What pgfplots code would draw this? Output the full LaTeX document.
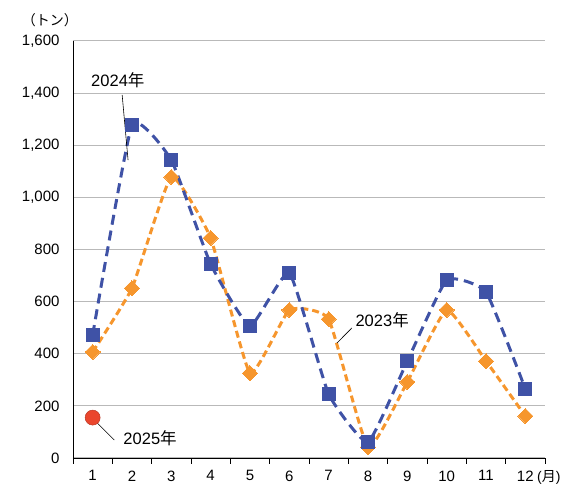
\documentclass[border=0pt]{standalone}
\usepackage{fontspec}
\setmainfont{Liberation Sans}
\newfontfamily\jp{Noto Sans CJK JP}
\usepackage{pgfplots}
\pgfplotsset{compat=1.18}
\definecolor{bl}{RGB}{63,82,166}
\definecolor{og}{RGB}{246,150,45}
\definecolor{rd}{RGB}{234,70,45}
\begin{document}
\begin{tikzpicture}[x=1pt,y=1pt]
\useasboundingbox (-73,-29) rectangle (490,458);
\begin{axis}[at={(0,0)},anchor=south west,scale only axis,
  width=472pt,height=417pt,
  xmin=0.5,xmax=12.5,ymin=0,ymax=1600,
  ytick={0,200,...,1600},
  xtick={1,...,12},
  minor xtick={0.5,1.5,...,12.5},
  axis x line*=bottom, axis y line*=left,
  axis line style={black,line width=0.9pt},
  major tick length=0pt,
  minor tick length=6pt,
  tick align=outside,
  minor tick style={black,line width=0.9pt},
  ymajorgrids, grid style={gray!55,line width=1pt},
  /pgf/number format/assume math mode=true,
  /pgf/number format/1000 sep={,},
  ticklabel style={font=\fontsize{15}{18}\selectfont},
  yticklabel style={xshift=-10pt},
  xticklabel style={yshift=-9pt},
  clip=false,
]
\addplot[og,line width=3pt,dash pattern=on 7pt off 4pt,smooth,tension=0.25,
  mark=square*,mark size=5.3pt,mark options={solid,rotate=45,fill=og,draw=og,line width=0pt}]
  coordinates {(1,407)(2,652)(3,1078)(4,844)(5,326)(6,568)(7,533)(8,42)(9,292)(10,568)(11,372)(12,161)};
\addplot[bl,line width=3pt,dash pattern=on 10pt off 6pt,smooth,tension=0.25,
  mark=square*,mark size=6.5pt,mark options={solid,fill=bl,draw=bl,line width=0pt}]
  coordinates {(1,472)(2,1278)(3,1143)(4,744)(5,506)(6,710)(7,245)(8,61)(9,372)(10,683)(11,637)(12,265)};
\addplot[only marks,mark=*,mark size=7.5pt,mark options={fill=rd,draw=rd!80!black,line width=0.5pt}]
  coordinates {(1,155)};
\draw[black,line width=0.6pt] (axis cs:1.75,1393) -- (axis cs:1.9,1143);
\draw[black,line width=0.6pt] (axis cs:7.59,499) -- (axis cs:7.21,441);
\draw[black,line width=0.6pt] (axis cs:1.0,152) -- (axis cs:1.55,69);
\node[font=\fontsize{16.5}{18}\selectfont] at (axis cs:1.64,1450) {2024{\jp 年}};
\node[font=\fontsize{16.5}{18}\selectfont] at (axis cs:8.36,530) {2023{\jp 年}};
\node[font=\fontsize{16.5}{18}\selectfont] at (axis cs:2.46,77) {2025{\jp 年}};
\node[font=\jp\fontsize{14}{16}\selectfont,inner sep=0pt] at ([xshift=-23pt,yshift=21pt]rel axis cs:0,1) {（トン）};
\node[font=\fontsize{14}{16}\selectfont,inner sep=0pt,anchor=west] at ([xshift=-8pt,yshift=-19pt]rel axis cs:1,0) {({\jp 月})};
\end{axis}
\end{tikzpicture}
\end{document}
